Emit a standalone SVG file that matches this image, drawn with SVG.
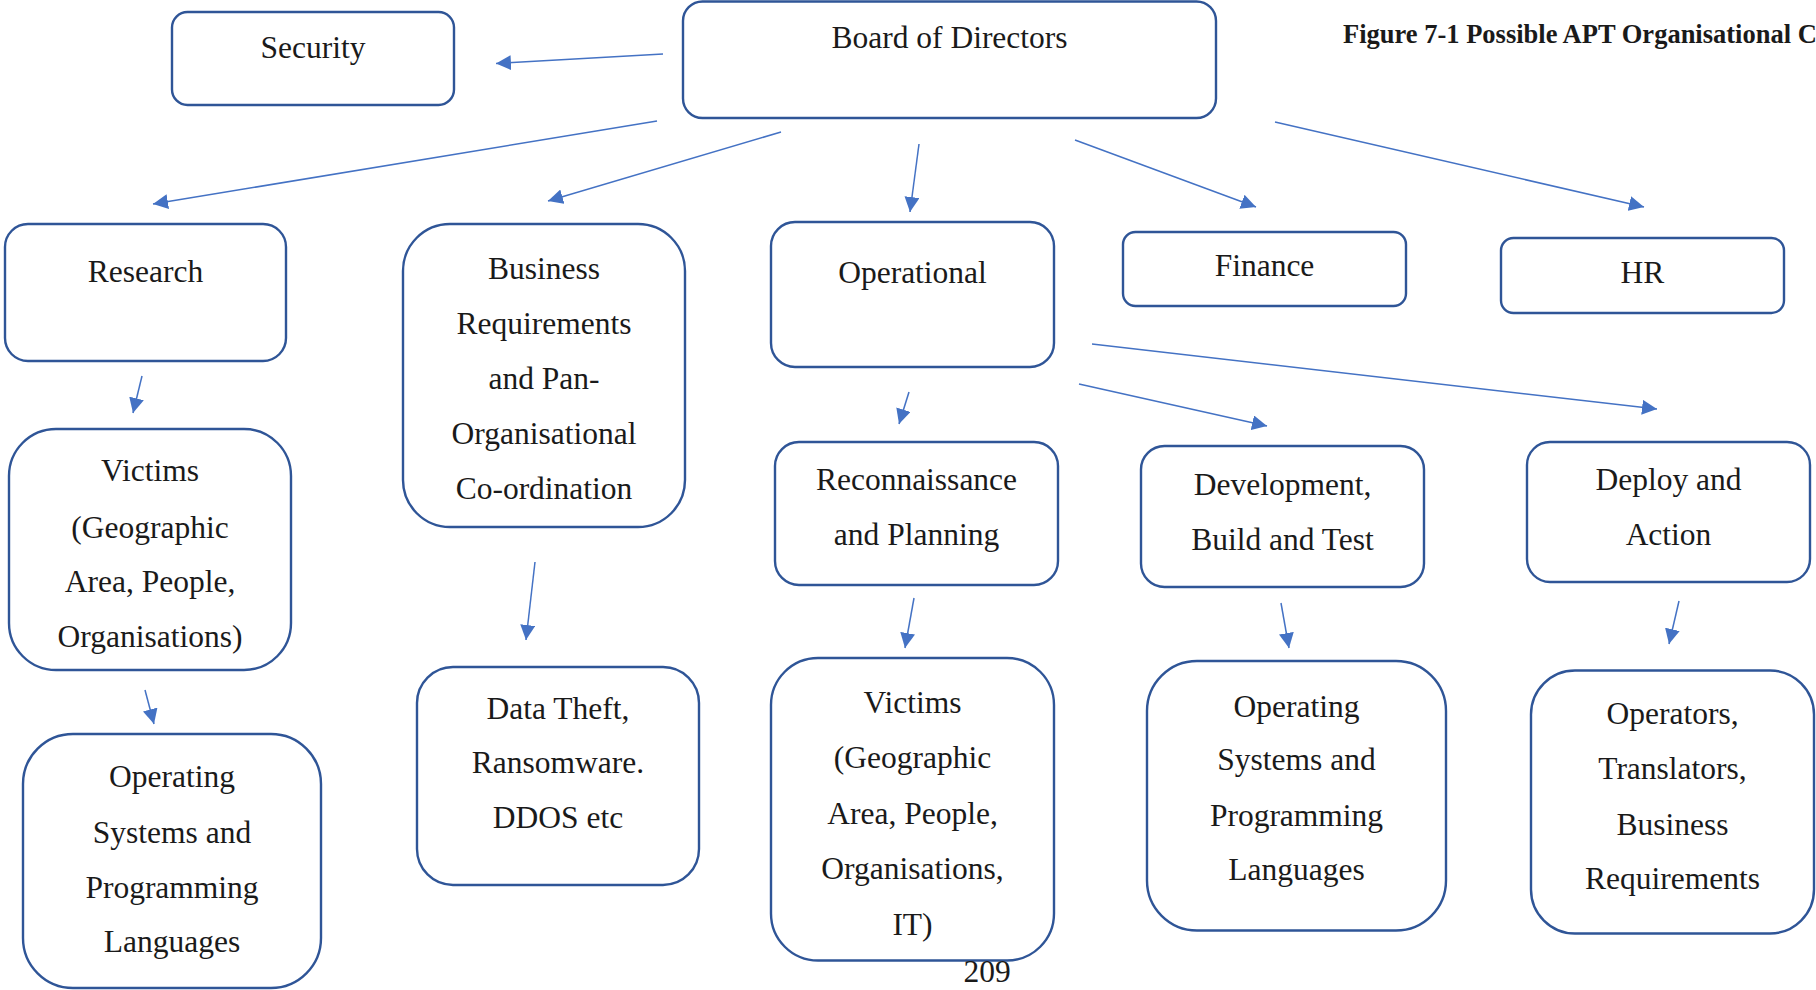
<svg xmlns="http://www.w3.org/2000/svg" width="1816" height="990" viewBox="0 0 1816 990">
  <defs>
    <marker id="head" markerUnits="userSpaceOnUse" markerWidth="16" markerHeight="15" refX="15" refY="7.5" orient="auto">
      <path d="M0,0 L15,7.5 L0,15 Z" fill="#4472C4"/>
    </marker>
    <style>
      .box { fill: #ffffff; stroke: #2F5597; stroke-width: 2.4; }
      .lbl { font-family: "Liberation Serif", "Times New Roman", serif; font-size: 31.5px; fill: #1a1a1a; text-anchor: middle; }
      .title { font-family: "Liberation Serif", "Times New Roman", serif; font-size: 26.5px; font-weight: bold; fill: #1a1a1a; }
      .link { stroke: #4472C4; stroke-width: 1.5; fill: none; marker-end: url(#head); }
    </style>
  </defs>

  <rect width="1816" height="990" fill="#ffffff"/>

  <text class="title" x="1343" y="43">Figure 7-1 Possible APT Organisational C</text>

  <g id="connectors">
    <line class="link" x1="663" y1="54" x2="496" y2="63.5"/>
    <line class="link" x1="657" y1="121" x2="153" y2="204"/>
    <line class="link" x1="781" y1="132" x2="548" y2="201"/>
    <line class="link" x1="919" y1="144" x2="910" y2="212"/>
    <line class="link" x1="1075" y1="140" x2="1256" y2="207"/>
    <line class="link" x1="1275" y1="122" x2="1644" y2="207"/>
    <line class="link" x1="142" y1="376" x2="133" y2="413"/>
    <line class="link" x1="145" y1="690" x2="154" y2="724"/>
    <line class="link" x1="535" y1="562" x2="526" y2="640"/>
    <line class="link" x1="909" y1="392" x2="899" y2="424"/>
    <line class="link" x1="1079" y1="384" x2="1267" y2="426"/>
    <line class="link" x1="1092" y1="344" x2="1657" y2="409"/>
    <line class="link" x1="914" y1="598" x2="905" y2="648"/>
    <line class="link" x1="1281" y1="603" x2="1289" y2="648"/>
    <line class="link" x1="1679" y1="601" x2="1669" y2="644"/>
  </g>

  <g id="security">
    <rect class="box" x="172" y="12" width="282" height="93" rx="15.5"/>
    <text class="lbl" x="313" y="58">Security</text>
  </g>

  <g id="board">
    <rect class="box" x="683" y="1.5" width="533" height="116.5" rx="19.5"/>
    <text class="lbl" x="949.5" y="48">Board of Directors</text>
  </g>

  <g id="research">
    <rect class="box" x="5" y="224" width="281" height="137" rx="23"/>
    <text class="lbl" x="145.5" y="282">Research</text>
  </g>

  <g id="business">
    <rect class="box" x="403" y="224" width="282" height="303" rx="47"/>
    <text class="lbl" x="544" y="279">Business</text>
    <text class="lbl" x="544" y="334">Requirements</text>
    <text class="lbl" x="544" y="389">and Pan-</text>
    <text class="lbl" x="544" y="444">Organisational</text>
    <text class="lbl" x="544" y="499">Co-ordination</text>
  </g>

  <g id="operational">
    <rect class="box" x="771" y="222" width="283" height="145" rx="24"/>
    <text class="lbl" x="912.5" y="283">Operational</text>
  </g>

  <g id="finance">
    <rect class="box" x="1123" y="232" width="283" height="74" rx="12.5"/>
    <text class="lbl" x="1264.5" y="276">Finance</text>
  </g>

  <g id="hr">
    <rect class="box" x="1501" y="238" width="283" height="75" rx="12.5"/>
    <text class="lbl" x="1642.5" y="283">HR</text>
  </g>

  <g id="victims-research">
    <rect class="box" x="9" y="429" width="282" height="241" rx="47"/>
    <text class="lbl" x="150" y="481">Victims</text>
    <text class="lbl" x="150" y="537.5">(Geographic</text>
    <text class="lbl" x="150" y="592">Area, People,</text>
    <text class="lbl" x="150" y="646.5">Organisations)</text>
  </g>

  <g id="languages-research">
    <rect class="box" x="23" y="734" width="298" height="254" rx="50"/>
    <text class="lbl" x="172" y="787">Operating</text>
    <text class="lbl" x="172" y="843">Systems and</text>
    <text class="lbl" x="172" y="898">Programming</text>
    <text class="lbl" x="172" y="952">Languages</text>
  </g>

  <g id="data-theft">
    <rect class="box" x="417" y="667" width="282" height="218" rx="36"/>
    <text class="lbl" x="558" y="718.5">Data Theft,</text>
    <text class="lbl" x="558" y="773">Ransomware.</text>
    <text class="lbl" x="558" y="827.5">DDOS etc</text>
  </g>

  <g id="recon">
    <rect class="box" x="775" y="442" width="283" height="143" rx="24"/>
    <text class="lbl" x="916.5" y="490">Reconnaissance</text>
    <text class="lbl" x="916.5" y="545">and Planning</text>
  </g>

  <g id="development">
    <rect class="box" x="1141" y="446" width="283" height="141" rx="23.5"/>
    <text class="lbl" x="1282.5" y="495">Development,</text>
    <text class="lbl" x="1282.5" y="550">Build and Test</text>
  </g>

  <g id="deploy">
    <rect class="box" x="1527" y="442" width="283" height="140" rx="23"/>
    <text class="lbl" x="1668.5" y="490">Deploy and</text>
    <text class="lbl" x="1668.5" y="545">Action</text>
  </g>

  <g id="victims-operational">
    <rect class="box" x="771" y="658" width="283" height="302.5" rx="47"/>
    <text class="lbl" x="912.5" y="713">Victims</text>
    <text class="lbl" x="912.5" y="768">(Geographic</text>
    <text class="lbl" x="912.5" y="823.5">Area, People,</text>
    <text class="lbl" x="912.5" y="879">Organisations,</text>
    <text class="lbl" x="912.5" y="934.5">IT)</text>
  </g>

  <g id="languages-development">
    <rect class="box" x="1147" y="661" width="299" height="269.5" rx="50"/>
    <text class="lbl" x="1296.5" y="716.5">Operating</text>
    <text class="lbl" x="1296.5" y="770">Systems and</text>
    <text class="lbl" x="1296.5" y="825.5">Programming</text>
    <text class="lbl" x="1296.5" y="880">Languages</text>
  </g>

  <g id="operators">
    <rect class="box" x="1531" y="670.5" width="283" height="263" rx="44"/>
    <text class="lbl" x="1672.5" y="724">Operators,</text>
    <text class="lbl" x="1672.5" y="779">Translators,</text>
    <text class="lbl" x="1672.5" y="834.5">Business</text>
    <text class="lbl" x="1672.5" y="889">Requirements</text>
  </g>

  <text class="lbl" x="987" y="982">209</text>
</svg>
